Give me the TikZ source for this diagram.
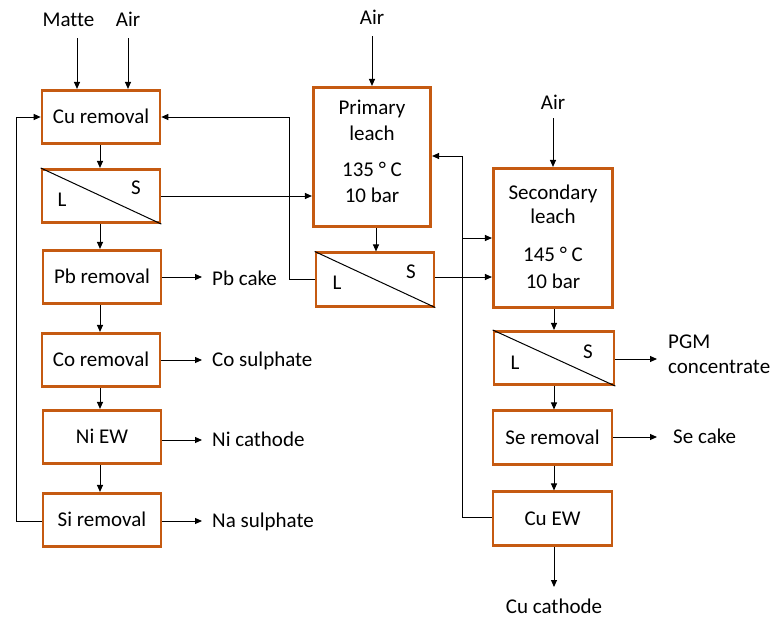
\documentclass[tikz,border=0pt]{standalone}
\usepackage{fontspec}
\setmainfont{Carlito}[Ligatures={NoCommon}]
\usetikzlibrary{arrows.meta}
\definecolor{boxorange}{HTML}{C55A11}
\tikzset{
  txt/.style={inner sep=0pt, font=\fontsize{21}{25}\selectfont, text height=13.5pt, text depth=0pt},
  pbox/.style={draw=boxorange, line width=2.6pt, fill=white, minimum width=118pt, minimum height=53.5pt, inner sep=0pt, font=\fontsize{21}{25}\selectfont, text height=13.5pt, text depth=0pt},
  conn/.style={line width=1pt, draw=black},
  arr/.style={conn, -{Triangle[length=7pt,width=6pt]}},
  diag/.style={line width=1pt, draw=black}
}
\begin{document}
\begin{tikzpicture}[x=1pt,y=-1pt]
\useasboundingbox (0,0) rectangle (772,619);
% left column
\node[pbox] (cu) at (101,117) {Cu removal};
\node[pbox] (sepa) at (101,196) {};
\node[pbox] (pb) at (102,277) {Pb removal};
\node[pbox] (co) at (101,360) {Co removal};
\node[pbox] (ni) at (102,437) {Ni EW};
\node[pbox] (si) at (102,520) {Si removal};
% middle
\node[pbox, minimum width=117.5pt, minimum height=139.5pt] (pl) at (372,157) {};
\node[pbox] (sepb) at (375,279.5) {};
% right
\node[pbox, minimum width=119.5pt, minimum height=139.5pt] (sl) at (553,238) {};
\node[pbox, minimum width=120pt] (sepc) at (554,358) {};
\node[pbox, minimum width=119pt] (se) at (552.5,437.5) {Se removal};
\node[pbox, minimum width=119pt] (cuew) at (552.5,518.5) {Cu EW};
% separator diagonals and labels
\foreach \s in {sepa,sepb,sepc}{
  \draw[diag] (\s.north west) -- (\s.south east);
}
\node[txt] (la) at (62,200) {L};
\node[txt] (sa) at (136,188) {S};
\node[txt] (lb) at (337,283) {L};
\node[txt] (sb) at (411,272) {S};
\node[txt] (lc) at (515,363) {L};
\node[txt] (sc) at (588,352) {S};
% leach texts
\node[txt] (pl1) at (372,108) {Primary};
\node[txt] (pl2) at (372,134) {leach};
\node[txt] (pl3) at (372,170) {135 ° C};
\node[txt] (pl4) at (372,196) {10 bar};
\node[txt] (sl1) at (553,193) {Secondary};
\node[txt] (sl2) at (553,217) {leach};
\node[txt] (sl3) at (553,255) {145 ° C};
\node[txt] (sl4) at (553,282) {10 bar};
% inputs
\node[txt] (matte) at (68.5,20) {Matte};
\node[txt] (aira) at (128,20) {Air};
\node[txt] (airb) at (372,18) {Air};
\node[txt] (airc) at (553,103) {Air};
\coordinate (mattes) at (77,38);
\coordinate (airas) at (128,38);
\coordinate (airbs) at (372,36);
\coordinate (aircs) at (553,118);
\draw[arr] (mattes) -- (mattes |- cu.north);
\draw[arr] (airas) -- (airas |- cu.north);
\draw[arr] (airbs) -- (airbs |- pl.north);
\draw[arr] (aircs) -- (aircs |- sl.north);
% outputs
\node[txt, anchor=west] (pbcake) at (212,279) {Pb cake};
\node[txt, anchor=west] (cosul) at (212,360) {Co sulphate};
\node[txt, anchor=west] (nicat) at (212,440) {Ni cathode};
\node[txt, anchor=west] (nasul) at (212,521) {Na sulphate};
\node[txt, anchor=west] (pgm1) at (668,342) {PGM};
\node[txt, anchor=west] (pgm2) at (668,367) {concentrate};
\node[txt, anchor=west] (secake) at (673,437) {Se cake};
\node[txt] (cucat) at (554,607) {Cu cathode};
\draw[arr] (pb.east |- 0,277) -- (202,277);
\draw[arr] (co.east |- 0,360) -- (202,360);
\draw[arr] (ni.east |- 0,440) -- (202,440);
\draw[arr] (si.east |- 0,521) -- (202,521);
\draw[arr] (sepc.east |- 0,359) -- (657,359);
\draw[arr] (se.east |- 0,437) -- (657,437);
\coordinate (cucatt) at (554,587);
\draw[arr] (cucatt |- cuew.south) -- (cucatt);
% left column flow
\draw[arr] (cu.south -| 100,0) -- (sepa.north -| 100,0);
\draw[arr] (sepa.south -| 100,0) -- (pb.north -| 100,0);
\draw[arr] (pb.south -| 100,0) -- (co.north -| 100,0);
\draw[arr] (co.south -| 100,0) -- (ni.north -| 100,0);
\draw[arr] (ni.south -| 100,0) -- (si.north -| 100,0);
% left recycle
\draw[arr] (si.west |- 0,521) -- (16,521) -- (16,117) -- (cu.west);
% sep1 solids to primary leach
\draw[arr] (sepa.east) -- (sepa.east -| pl.west);
% primary sep liquor to Cu removal
\draw[arr] (sepb.west |- 0,279) -- (289,279) -- (289,117) -- (cu.east);
% primary leach to separator
\draw[arr] (pl.south -| 376,0) -- (sepb.north -| 376,0);
% primary sep solids to secondary leach
\draw[arr] (sepb.east |- 0,277) -- (sl.west |- 0,277);
% recycle from Cu EW
\draw[arr] (cuew.west |- 0,517) -- (462,517) -- (462,156) -- (pl.east |- 0,156);
\draw[arr] (462,238) -- (sl.west |- 0,238);
% right column flow
\draw[arr] (sl.south -| 554,0) -- (sepc.north -| 554,0);
\draw[arr] (sepc.south -| 554,0) -- (se.north -| 554,0);
\draw[arr] (se.south -| 554,0) -- (cuew.north -| 554,0);
\end{tikzpicture}
\end{document}
